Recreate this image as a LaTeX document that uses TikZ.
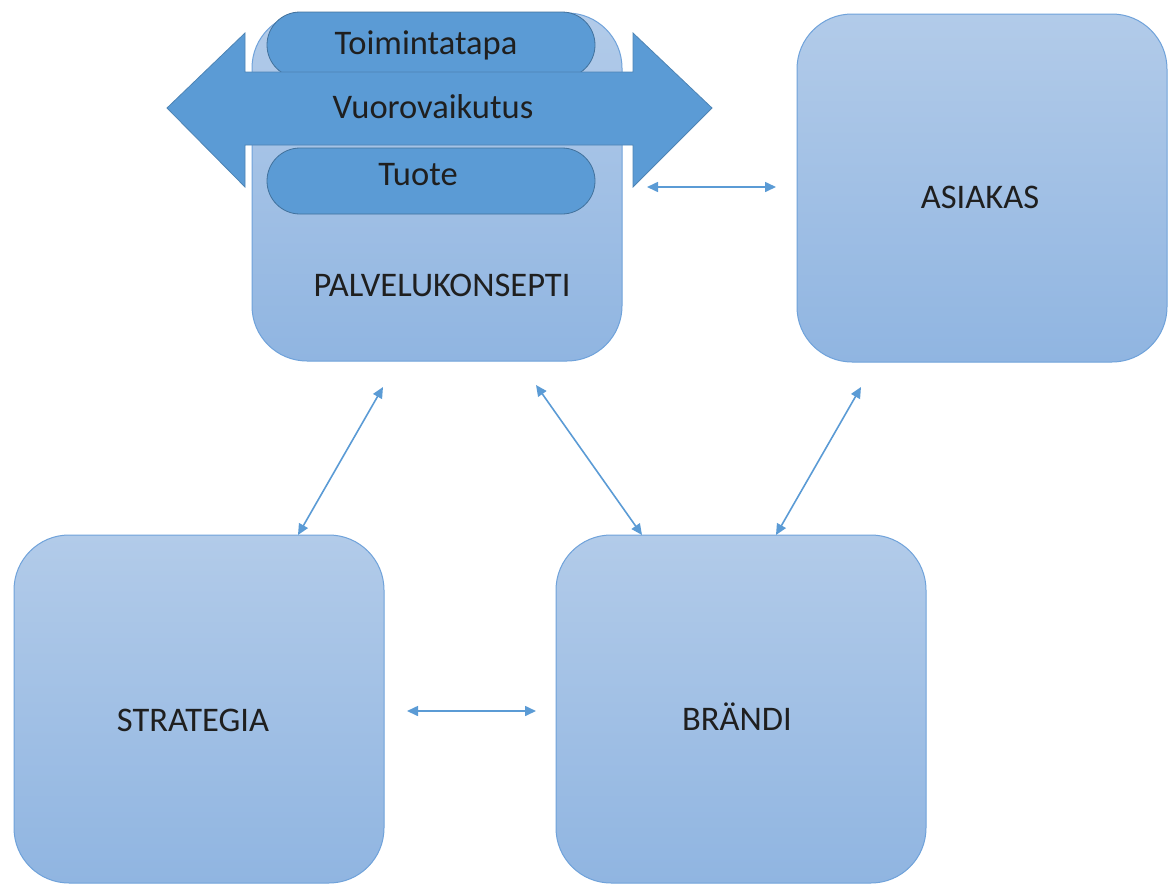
\documentclass[tikz,border=0pt]{standalone}
\usepackage{fontspec}
\setmainfont{Carlito}
\usetikzlibrary{arrows.meta}
\definecolor{boxtop}{HTML}{B2CBE9}
\definecolor{boxbot}{HTML}{90B5E1}
\definecolor{boxline}{HTML}{6FA2DA}
\definecolor{accent}{HTML}{5B9BD5}
\definecolor{accentline}{HTML}{41719C}
\definecolor{conn}{HTML}{5B9BD5}
\begin{document}
\begin{tikzpicture}[x=1pt,y=-1pt,
  bigbox/.style={rectangle, rounded corners=55pt, minimum width=370pt, minimum height=348pt,
    inner sep=0pt, draw=boxline, line width=1pt, top color=boxtop, bottom color=boxbot},
  pill/.style={fill=accent, draw=accentline, line width=0.8pt, rounded corners=33pt},
  lbl/.style={font=\fontsize{34.5}{40}\selectfont, text=black!88, inner sep=0pt},
  link/.style={draw=conn, line width=1.6pt, {Triangle[length=11pt,width=10pt]}-{Triangle[length=11pt,width=10pt]}}
]
\useasboundingbox (0,0) rectangle (1171,884);
% boxes
\node[bigbox] (palv) at (437,187) {};
\node[bigbox] (asiak) at (982,188) {};
\node[bigbox] (strat) at (199,709) {};
\node[bigbox] (brandi) at (741,709) {};
\node[lbl] (palvtxt) at (442,285) {PALVELUKONSEPTI};
\node[lbl] (asiaktxt) at (980,197) {ASIAKAS};
\node[lbl] (strattxt) at (193,720) {STRATEGIA};
\node[lbl] (branditxt) at (737,717) {BRÄNDI};
% pills
\draw[pill] (267,12) rectangle (595,78);
\draw[pill] (267,148) rectangle (595,214);
% double arrow shape
\draw[fill=accent, draw=accent!85!black, line width=0.8pt]
  (167,108) -- (245,33) -- (245,72) -- (633,72) -- (633,33) -- (712,108)
  -- (633,187) -- (633,145) -- (245,145) -- (245,187) -- cycle;
\node[lbl] (toim) at (426,45) {Toimintatapa};
\node[lbl] (vuoro) at (433,107) {Vuorovaikutus};
\node[lbl] (tuote) at (418,175) {Tuote};
% connector end points
\coordinate (pa) at (647,187);
\coordinate (ap) at (776,187);
\coordinate (sb) at (407,711);
\coordinate (bs) at (536,711);
\coordinate (ps) at (383,387);
\coordinate (sp) at (298,535);
\coordinate (pb) at (536,385);
\coordinate (bp) at (642,535);
\coordinate (ab) at (861,387);
\coordinate (ba) at (776,535);
\draw[link] (pa) -- (ap);
\draw[link] (sb) -- (bs);
\draw[link] (ps) -- (sp);
\draw[link] (pb) -- (bp);
\draw[link] (ab) -- (ba);
\end{tikzpicture}
\end{document}
